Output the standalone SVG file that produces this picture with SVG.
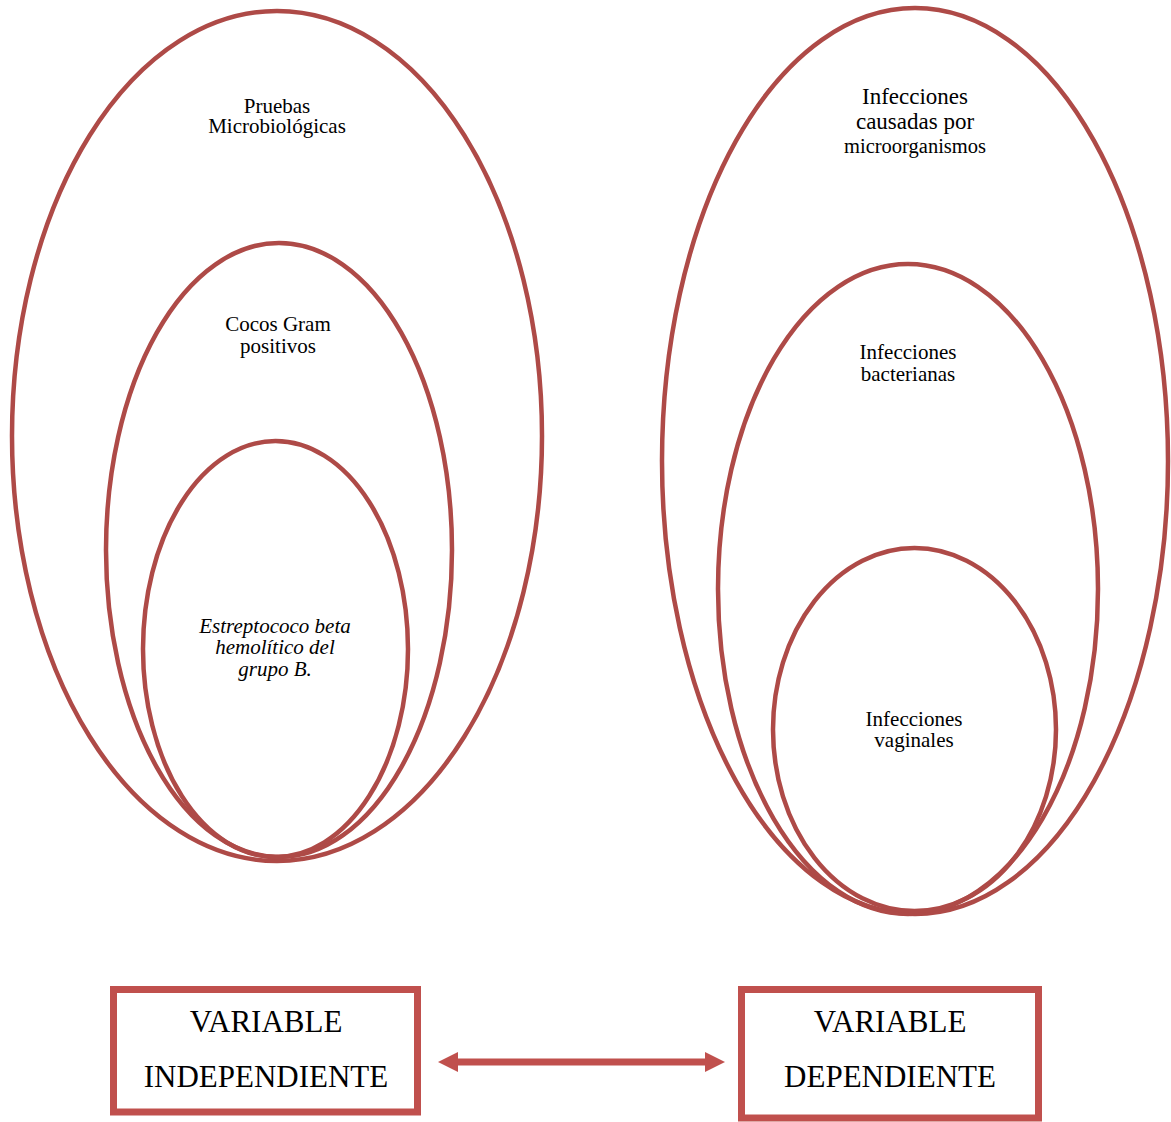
<svg xmlns="http://www.w3.org/2000/svg" width="1171" height="1122" viewBox="0 0 1171 1122">
<style>
.ell{fill:none;stroke:#ae4a47;stroke-width:4.5}
.box{fill:#fff;stroke:#c0504d;stroke-width:7}
.t{font-family:"Liberation Serif","Times New Roman",serif;fill:#000;text-anchor:middle}
.s21{font-size:21px}
.s23{font-size:23px}
.s20{font-size:20.5px}
.big{font-size:31px}
.it{font-style:italic}
</style>
<defs>
<marker id="ah" viewBox="0 0 20 20" refX="0" refY="10" markerWidth="20" markerHeight="20" markerUnits="userSpaceOnUse" orient="auto-start-reverse">
<path d="M0,0 L20,10 L0,20 Z" fill="#c0504d"/>
</marker>
</defs>
<rect width="1171" height="1122" fill="#fff"/>
<g id="pruebas">
<ellipse class="ell" cx="277" cy="436" rx="265" ry="425"/>
<text class="t s21" x="277" y="113">Pruebas</text>
<text class="t s21" x="277" y="133">Microbiológicas</text>
</g>
<g id="cocos">
<ellipse class="ell" cx="279" cy="550" rx="173" ry="307"/>
<text class="t s21" x="278" y="331">Cocos Gram</text>
<text class="t s21" x="278" y="353">positivos</text>
</g>
<g id="estreptococo">
<ellipse class="ell" cx="275.5" cy="649" rx="132.5" ry="208"/>
<text class="t s21 it" x="275" y="633">Estreptococo beta</text>
<text class="t s21 it" x="275" y="654">hemolítico del</text>
<text class="t s21 it" x="275" y="676">grupo B.</text>
</g>
<g id="infecciones-micro">
<ellipse class="ell" cx="915" cy="461" rx="253" ry="453"/>
<text class="t s23" x="915" y="104">Infecciones</text>
<text class="t s23" x="915" y="129">causadas por</text>
<text class="t s20" x="915" y="153">microorganismos</text>
</g>
<g id="infecciones-bact">
<ellipse class="ell" cx="908" cy="589" rx="190" ry="325"/>
<text class="t s21" x="908" y="359">Infecciones</text>
<text class="t s21" x="908" y="381">bacterianas</text>
</g>
<g id="infecciones-vag">
<ellipse class="ell" cx="914.5" cy="729.5" rx="141.5" ry="181.5"/>
<text class="t s21" x="914" y="726">Infecciones</text>
<text class="t s21" x="914" y="747">vaginales</text>
</g>
<g id="var-independiente">
<rect class="box" x="113.5" y="989.5" width="304" height="122.5"/>
<text class="t big" x="266" y="1032">VARIABLE</text>
<text class="t big" x="266" y="1087">INDEPENDIENTE</text>
</g>
<g id="var-dependiente">
<rect class="box" x="741.5" y="989.5" width="297" height="128.5"/>
<text class="t big" x="890" y="1032">VARIABLE</text>
<text class="t big" x="890" y="1087">DEPENDIENTE</text>
</g>
<g id="connectors">
<line x1="458" y1="1062" x2="705" y2="1062" stroke="#c0504d" stroke-width="7" marker-start="url(#ah)" marker-end="url(#ah)"/>
</g>
</svg>
